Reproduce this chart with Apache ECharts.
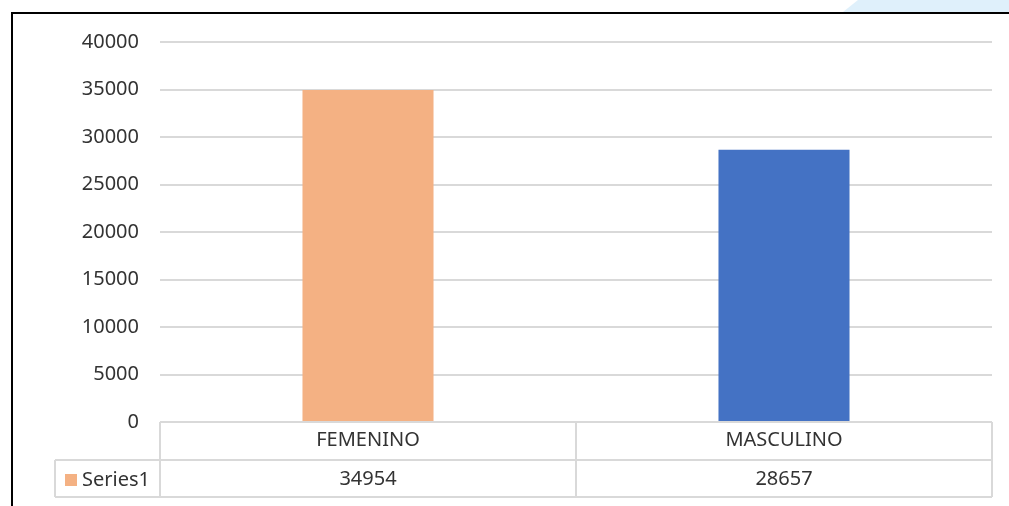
<!DOCTYPE html>
<html>
<head>
<meta charset="utf-8">
<script src="https://cdn.jsdelivr.net/npm/echarts@6/dist/echarts.min.js"></script>
<style>
  html, body { margin: 0; padding: 0; background: #ffffff; }
  #chart { width: 1009px; height: 506px; }
</style>
</head>
<body>
<div id="chart"></div>
<script>
// Chart data
const categories = ['FEMENINO', 'MASCULINO'];
const seriesName = 'Series1';
const values = [34954, 28657];
const barColors = ['#f4b183', '#4472c4'];
const yTicks = { min: 0, max: 40000, interval: 5000 };

// Layout of the plot area and the data table beneath it
const plot = { left: 160, right: 992, top: 42, bottom: 422 };
const table = { labelLeft: 55, headerBottom: 460, bottom: 497 };
const fontFamily = '"Noto Sans", "Open Sans", sans-serif';
const fontSize = 20;
const textColor = '#333333';
const lineColor = '#d9d9d9';

const chart = echarts.init(document.getElementById('chart'));

const colWidth = (plot.right - plot.left) / categories.length;

const graphics = [];
// light blue decoration behind the top-right corner
graphics.push({
  type: 'polygon', silent: true, z: 0,
  shape: { points: [[843, 12], [858, 0], [1009, 0], [1009, 12]] },
  style: { fill: '#dff0fb' }
});
// outer frame (left and top edges)
graphics.push({
  type: 'polyline', silent: true, z: 100,
  shape: { points: [[12, 506], [12, 13], [1009, 13]] },
  style: { stroke: '#000000', lineWidth: 2, fill: null }
});
// table grid lines
const hLines = [
  [plot.left, plot.bottom, plot.right, plot.bottom],
  [table.labelLeft, table.headerBottom, plot.right, table.headerBottom],
  [table.labelLeft, table.bottom, plot.right, table.bottom]
];
hLines.forEach(function (l) {
  graphics.push({ type: 'line', silent: true, z: 50,
    shape: { x1: l[0], y1: l[1], x2: l[2], y2: l[3] },
    style: { stroke: lineColor, lineWidth: 2 } });
});
graphics.push({ type: 'line', silent: true, z: 50,
  shape: { x1: table.labelLeft, y1: table.headerBottom, x2: table.labelLeft, y2: table.bottom },
  style: { stroke: lineColor, lineWidth: 2 } });
for (let i = 0; i <= categories.length; i++) {
  const x = plot.left + colWidth * i;
  graphics.push({ type: 'line', silent: true, z: 50,
    shape: { x1: x, y1: plot.bottom, x2: x, y2: table.bottom },
    style: { stroke: lineColor, lineWidth: 2 } });
}
// value row of the data table
values.forEach(function (v, i) {
  graphics.push({
    type: 'text', silent: true, z: 60,
    x: plot.left + colWidth * (i + 0.5),
    y: (table.headerBottom + table.bottom) / 2 + 1,
    style: {
      text: String(v), fill: textColor, font: fontSize + 'px ' + fontFamily,
      align: 'center', verticalAlign: 'middle'
    }
  });
});

chart.setOption({
  animation: false,
  backgroundColor: '#ffffff',
  grid: {
    left: plot.left, right: 1009 - plot.right,
    top: plot.top, bottom: 506 - plot.bottom,
    containLabel: false
  },
  legend: {
    data: [seriesName],
    left: 60, top: 465,
    icon: 'rect', itemWidth: 12, itemHeight: 12, itemGap: 6,
    textStyle: { color: textColor, fontSize: fontSize, fontFamily: fontFamily },
    selectedMode: false
  },
  xAxis: {
    type: 'category',
    data: categories,
    axisLine: { show: false },
    axisTick: { show: false },
    axisLabel: {
      color: textColor, fontSize: fontSize, fontFamily: fontFamily,
      margin: 8
    },
    splitLine: { show: false }
  },
  yAxis: {
    type: 'value',
    min: yTicks.min, max: yTicks.max, interval: yTicks.interval,
    axisLine: { show: false },
    axisTick: { show: false },
    axisLabel: {
      color: textColor, fontSize: fontSize, fontFamily: fontFamily,
      margin: 21,
      formatter: function (v) { return String(v); }
    },
    splitLine: { lineStyle: { color: lineColor, width: 2 } }
  },
  series: [{
    name: seriesName,
    type: 'bar',
    barWidth: '31.5%',
    itemStyle: { color: barColors[0] },
    data: values.map(function (v, i) {
      return { value: v, itemStyle: { color: barColors[i] } };
    })
  }],
  graphic: graphics
});
</script>
</body>
</html>
